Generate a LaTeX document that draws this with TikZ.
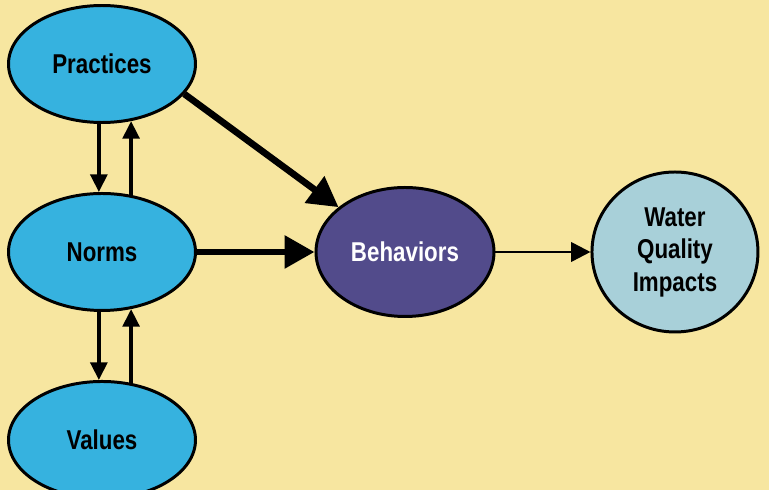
\documentclass[tikz,border=0pt]{standalone}
\usepackage{fontspec}
\usetikzlibrary{positioning,arrows.meta,shapes.geometric}
\newfontfamily\labelfont[FakeStretch=0.82]{Liberation Sans}
\definecolor{bgyellow}{HTML}{F7E6A0}
\definecolor{skyblue}{HTML}{36B2DF}
\definecolor{behpurple}{HTML}{524B8B}
\definecolor{paleblue}{HTML}{A8D0D9}

\begin{document}
\begin{tikzpicture}[
    blob/.style={ellipse, draw=black, line width=1.7pt, inner sep=0pt, align=center,
      font=\labelfont\bfseries\fontsize{15.5}{18.5}\selectfont},
    small/.style={blob, fill=skyblue, minimum width=3.74cm, minimum height=2.34cm},
    link/.style={line width=2.1pt, -{Triangle[length=10pt,width=9.5pt]}},
    heavy/.style={line width=3.8pt, -{Triangle[length=17pt,width=18pt]}}]
  \path[fill=bgyellow, use as bounding box] (-2.04,-4.76) rectangle (13.34,5.04);
  \node[small] (i2) {Norms};
  \node[small, above=1.36cm of i2] (i1) {Practices};
  \node[small, below=1.36cm of i2] (i3) {Values};
  \node[blob, fill=behpurple, text=white, minimum width=3.56cm, minimum height=2.58cm,
    right=2.35cm of i2] (v1) {Behaviors};
  \node[blob, fill=paleblue, minimum width=3.32cm, minimum height=3.2cm,
    right=1.9cm of v1] (o1) {Water\\Quality\\Impacts};
  % up and down between the left ellipses
  \draw[link] (i1.-93.9) -- (i2.93.9);
  \draw[link] (i2.63.4) -- (i1.-63.4);
  \draw[link] (i2.-93.9) -- (i3.93.9);
  \draw[link] (i3.63.4) -- (i2.-63.4);
  \draw[heavy] (i1.-20) -- (v1.146);
  \draw[heavy] (i2) -- (v1);
  \draw[line width=1.5pt, -{Triangle[length=11pt,width=11pt]}] (v1) -- (o1);
\end{tikzpicture}
\end{document}
